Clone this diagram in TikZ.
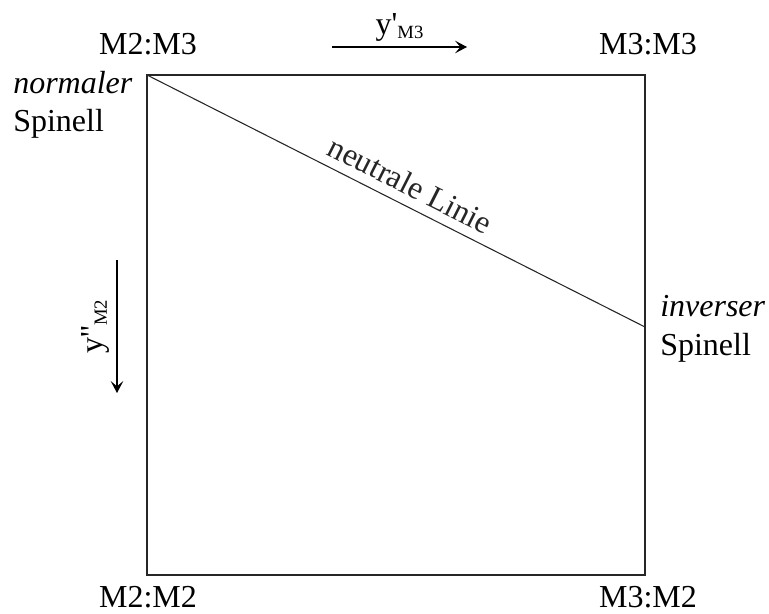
\documentclass[tikz,border=0pt]{standalone}
\usepackage{fontspec}
\setmainfont{Liberation Serif}
\usetikzlibrary{arrows.meta}
\tikzset{
    edge/.style={line width=0.8pt, black!85},
    corner/.style={inner sep=0pt, anchor=base},
    side/.style={inner sep=0pt, anchor=base west},
    axis/.style={line width=0.8pt, -{Stealth[length=9pt, width=9.5pt, inset=4pt]}},
}
\newcommand{\prm}{\textquotesingle}
\newcommand{\lowsub}[1]{\raisebox{-3pt}{\fontsize{14}{16}\selectfont #1}}

\begin{document}
\begin{tikzpicture}[x=0.75pt, y=-0.75pt, font=\fontsize{24}{28}\selectfont]
    \useasboundingbox (0,0) rectangle (769,614);

    % square and neutral line
    \coordinate (tl) at (147,75);
    \coordinate (br) at (645,575);
    \coordinate (nl) at (645,327);
    \draw[edge] (tl) rectangle (br);
    \draw[edge] (tl) -- node[sloped, above, pos=0.51, inner sep=7pt] {neutrale Linie} (nl);

    % corner labels
    \node[corner] (c23) at (148,55)  {M2:M3};
    \node[corner] (c33) at (648,55)  {M3:M3};
    \node[corner] (c22) at (148,607) {M2:M2};
    \node[corner] (c32) at (648,607) {M3:M2};

    \node[side] (nor) at (13,93)   {\itshape normaler};
    \node[side] (nsp) at (13,131)  {Spinell};
    \node[side] (inv) at (660,316) {\itshape inverser};
    \node[side] (isp) at (660,355) {Spinell};

    % axes
    \coordinate (ha) at (332,47);
    \coordinate (hb) at (467,47);
    \coordinate (va) at (117,260);
    \coordinate (vb) at (117,393);
    \draw[axis] (ha) -- node[midway, above, inner sep=4pt] {y\prm\lowsub{M3}} (hb);
    \draw[axis] (va) -- node[midway, rotate=90, anchor=south, inner sep=5pt] {y\prm\prm\lowsub{M2}} (vb);
\end{tikzpicture}
\end{document}
